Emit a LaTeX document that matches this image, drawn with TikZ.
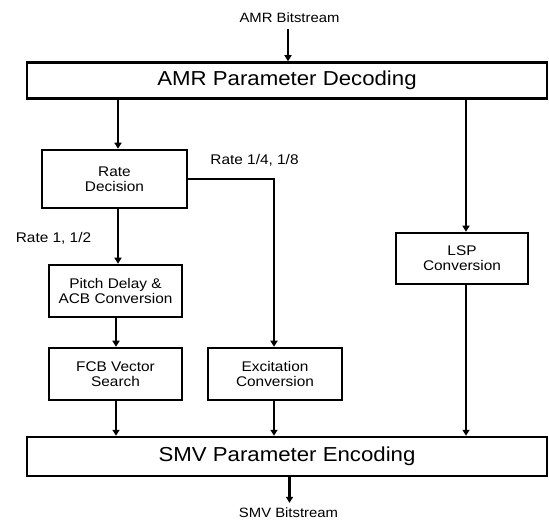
\documentclass[tikz,border=0pt]{standalone}
\usepackage{fontspec}
\setmainfont{Liberation Sans}[FakeStretch=1.1]
\usetikzlibrary{arrows.meta}

\tikzset{
  block/.style={draw, line width=2.5pt, fill=white, inner sep=0pt, align=center,
    font=\fontsize{14}{15}\selectfont},
  wideblock/.style={block, font=\fontsize{20.2}{22}\selectfont},
  lbl/.style={inner sep=0pt, font=\fontsize{13.5}{15}\selectfont},
  arr/.style={line width=2.7pt, -{Triangle[length=6pt,width=7pt]}},
  wire/.style={line width=2.7pt}
}

\begin{document}
\begin{tikzpicture}[x=1pt,y=-1pt]
  \useasboundingbox (0,0) rectangle (549,521);

  % input / output stream labels
  \node[lbl] (amrbs) at (289.5,18) {AMR Bitstream};
  \node[lbl] (smvbs) at (288.5,513) {SMV Bitstream};

  % wide stages
  \node[wideblock, minimum width=520pt, minimum height=36pt] (dec) at (287,80.5) {AMR Parameter Decoding};
  \node[wideblock, minimum width=520pt, minimum height=39pt] (enc) at (287,456.5) {SMV Parameter Encoding};

  % conversion blocks
  \node[block, minimum width=145pt, minimum height=58pt] (rate)  at (114.5,179) {Rate\\Decision};
  \node[block, minimum width=133pt, minimum height=52pt] (pitch) at (115.5,291) {Pitch Delay \&\\ACB Conversion};
  \node[block, minimum width=133pt, minimum height=52pt] (fcb)   at (115.5,374) {FCB Vector\\Search};
  \node[block, minimum width=134pt, minimum height=52pt] (exc)   at (275,374)   {Excitation\\Conversion};
  \node[block, minimum width=132pt, minimum height=51pt] (lsp)   at (462,258.5) {LSP\\Conversion};

  % branch labels
  \node[lbl, font=\fontsize{14}{15}\selectfont] (r12) at (53.5,238) {Rate 1, 1/2};
  \node[lbl, font=\fontsize{14}{15}\selectfont] (r48) at (254.5,160.5) {Rate 1/4, 1/8};

  % connectors
  \draw[arr] ([xshift=-1.5pt,yshift=-6pt]amrbs.south) -- ([xshift=-1.5pt]amrbs.south |- dec.north);
  \draw[arr] ([xshift=3.5pt]rate.north |- dec.south) -- ([xshift=3.5pt]rate.north);
  \draw[arr] ([xshift=3.5pt]rate.south) -- ([xshift=3.5pt]rate.south |- pitch.north);
  \draw[arr] ([xshift=0.5pt]pitch.south) -- ([xshift=0.5pt]fcb.north);
  \draw[arr] ([xshift=0.5pt]fcb.south) -- ([xshift=0.5pt]fcb.south |- enc.north);
  \draw[arr] (rate.east) -| ([xshift=-1pt]exc.north);
  \draw[arr] ([xshift=-1pt]exc.south) -- ([xshift=-1pt]exc.south |- enc.north);
  \draw[arr] ([xshift=4pt]lsp.north |- dec.south) -- ([xshift=4pt]lsp.north);
  \draw[arr] ([xshift=4pt]lsp.south) -- ([xshift=4pt]lsp.south |- enc.north);
  \draw[arr] ([xshift=1pt]smvbs.north |- enc.south) -- ([xshift=1pt,yshift=5pt]smvbs.north);
\end{tikzpicture}
\end{document}
